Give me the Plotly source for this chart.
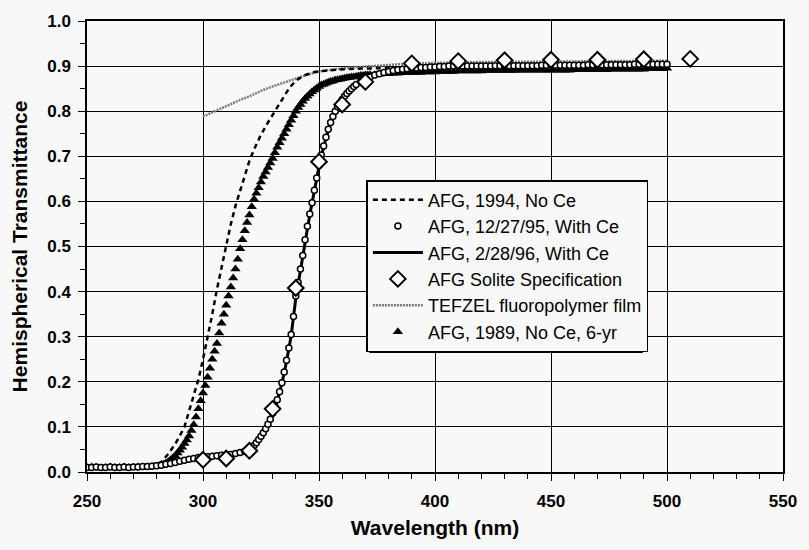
import plotly.graph_objects as go

# ---------------- data ----------------
# AFG, 1994, No Ce (dashed line)
wl_1994 = [250, 260, 270, 278, 282, 285, 288, 290, 292, 294, 296, 298, 300, 302, 304, 306,
           308, 310, 312, 314, 316, 318, 320, 322, 325, 328, 331, 334, 337, 340, 344, 348,
           355, 365, 380, 400, 430, 460, 500]
t_1994 = [0.010, 0.010, 0.010, 0.012, 0.022, 0.040, 0.062, 0.080, 0.100, 0.135, 0.170, 0.205,
          0.250, 0.298, 0.350, 0.405, 0.455, 0.505, 0.550, 0.590, 0.625, 0.660, 0.690, 0.715,
          0.748, 0.775, 0.800, 0.825, 0.850, 0.868, 0.880, 0.887, 0.891, 0.894, 0.896, 0.898,
          0.900, 0.901, 0.902]

# AFG, 12/27/95, With Ce (open circles)
wl_1995 = ([250 + 2 * i for i in range(36)] + [321 + i for i in range(45)]
           + [366 + 2 * i for i in range(68)])
t_1995 = [0.010, 0.010, 0.011, 0.010, 0.010, 0.011, 0.010, 0.010, 0.011, 0.010, 0.011, 0.011,
          0.012, 0.012, 0.013, 0.014,
          0.015, 0.017, 0.019, 0.021, 0.024, 0.026, 0.028, 0.030, 0.032, 0.033, 0.034, 0.035,
          0.036, 0.037, 0.038, 0.039, 0.041, 0.043, 0.046, 0.050,
          0.054, 0.059, 0.065, 0.072, 0.079, 0.087, 0.096, 0.106, 0.117,
          0.130, 0.145, 0.160, 0.178, 0.198, 0.222, 0.248, 0.275, 0.305, 0.345, 0.390, 0.420,
          0.450, 0.480, 0.515, 0.545, 0.572, 0.597, 0.625, 0.652, 0.680, 0.703, 0.723, 0.742,
          0.760, 0.775, 0.788, 0.800, 0.810, 0.818, 0.826, 0.833, 0.839, 0.845, 0.850, 0.855,
          0.859, 0.866, 0.871, 0.876, 0.880, 0.883, 0.886, 0.888, 0.890, 0.892,
          0.893, 0.894, 0.895, 0.896, 0.897, 0.897, 0.898, 0.898, 0.899, 0.899,
          0.900, 0.900, 0.900, 0.900, 0.900, 0.900, 0.900, 0.900, 0.900, 0.900,
          0.901, 0.901, 0.901, 0.901, 0.901, 0.901, 0.901, 0.901, 0.901, 0.901,
          0.902, 0.902, 0.902, 0.902, 0.902, 0.902, 0.902, 0.902, 0.902, 0.902,
          0.903, 0.903, 0.903, 0.903, 0.903, 0.903, 0.903, 0.903, 0.903, 0.903,
          0.904, 0.904, 0.904, 0.904, 0.904, 0.904, 0.904, 0.904]

# AFG, 2/28/96, With Ce (solid line)
wl_1996 = [250, 270, 280, 285, 290, 295, 300, 305, 310, 315, 320, 323, 326, 328, 330, 332,
           334, 336, 338, 340, 342, 344, 346, 348, 350, 352, 354, 356, 358, 360, 363, 366,
           370, 375, 380, 390, 400, 420, 450, 480, 500]
t_1996 = [0.010, 0.010, 0.013, 0.018, 0.024, 0.029, 0.033, 0.036, 0.038, 0.042, 0.050, 0.064,
          0.085, 0.104, 0.128, 0.158, 0.196, 0.245, 0.302, 0.385, 0.447, 0.512, 0.570, 0.623,
          0.678, 0.721, 0.758, 0.786, 0.808, 0.824, 0.843, 0.858, 0.870, 0.882, 0.888, 0.895,
          0.898, 0.900, 0.902, 0.903, 0.904]

# AFG Solite Specification (diamonds)
wl_spec = [300, 310, 320, 330, 340, 350, 360, 370, 390, 410, 430, 450, 470, 490, 510]
t_spec = [0.027, 0.030, 0.047, 0.140, 0.408, 0.688, 0.815, 0.865, 0.906, 0.911, 0.913,
          0.914, 0.914, 0.915, 0.916]

# TEFZEL fluoropolymer film (grey line)
wl_tefzel = [300, 305, 310, 316, 320, 325, 330, 334, 340, 345, 350, 355, 360, 370, 380, 390,
             400, 420, 450, 480, 500]
t_tefzel = [0.788, 0.800, 0.812, 0.825, 0.833, 0.845, 0.855, 0.862, 0.872, 0.881, 0.888,
            0.892, 0.895, 0.899, 0.903, 0.906, 0.907, 0.909, 0.910, 0.911, 0.912]

# AFG, 1989, No Ce, 6-yr (filled triangles)
wl_1989 = ([250 + 2 * i for i in range(15)] + [279 + i for i in range(94)]
           + [374 + 2 * i for i in range(64)])
t_1989 = [0.010, 0.011, 0.010, 0.009, 0.010, 0.011, 0.010, 0.010, 0.011, 0.010, 0.010, 0.011,
          0.010, 0.011, 0.012,
          0.012, 0.013, 0.014, 0.015, 0.017, 0.020, 0.023, 0.027, 0.031, 0.036,
          0.042, 0.048, 0.055, 0.063, 0.071, 0.080, 0.092, 0.105, 0.122, 0.140,
          0.158, 0.175, 0.192, 0.210, 0.230, 0.250, 0.268, 0.285, 0.308, 0.330,
          0.350, 0.370, 0.390, 0.410, 0.430, 0.450, 0.472, 0.495, 0.515, 0.535,
          0.553, 0.570, 0.588, 0.605, 0.618, 0.630, 0.643, 0.655, 0.665, 0.675,
          0.685, 0.695, 0.708, 0.720, 0.730, 0.740, 0.750, 0.760, 0.770, 0.780,
          0.790, 0.800, 0.808, 0.815, 0.822, 0.828, 0.833, 0.838, 0.843, 0.847,
          0.851, 0.855, 0.858, 0.860, 0.862, 0.864, 0.866, 0.867, 0.869, 0.870,
          0.871, 0.872, 0.873, 0.874, 0.875, 0.876, 0.876, 0.877, 0.878, 0.879,
          0.879, 0.880, 0.880, 0.881,
          0.881, 0.882, 0.883, 0.883, 0.884, 0.884, 0.885, 0.885, 0.886,
          0.886, 0.886, 0.887, 0.887, 0.887, 0.888, 0.888, 0.888, 0.888, 0.889,
          0.889, 0.889, 0.889, 0.889, 0.889, 0.890, 0.890, 0.890, 0.890, 0.890,
          0.890, 0.890, 0.891, 0.891, 0.891, 0.891, 0.891, 0.891, 0.891, 0.891,
          0.891, 0.891, 0.891, 0.891, 0.892, 0.892, 0.892, 0.892, 0.892, 0.892,
          0.892, 0.892, 0.893, 0.893, 0.893, 0.893, 0.893, 0.893, 0.893, 0.893,
          0.894, 0.894, 0.894, 0.894, 0.895]

x_ticks = [250, 300, 350, 400, 450, 500, 550]
y_ticks = [0.0, 0.1, 0.2, 0.3, 0.4, 0.5, 0.6, 0.7, 0.8, 0.9, 1.0]

names = ["AFG, 1994, No Ce", "AFG, 12/27/95, With Ce", "AFG, 2/28/96, With Ce",
         "AFG Solite Specification", "TEFZEL fluoropolymer film", "AFG, 1989, No Ce, 6-yr"]

# ---------------- figure ----------------
fig = go.Figure()

fig.add_trace(go.Scatter(x=wl_tefzel, y=t_tefzel, mode="lines", name=names[4], legendrank=5,
                         line=dict(color="#7a7a7a", width=2.5, dash="2px,1px")))
fig.add_trace(go.Scatter(x=wl_1994, y=t_1994, mode="lines", name=names[0], legendrank=1,
                         line=dict(color="black", width=2.5, dash="5px,4px")))
fig.add_trace(go.Scatter(x=wl_1989, y=t_1989, mode="markers", name=names[5], legendrank=6,
                         marker=dict(symbol="triangle-up", color="black", size=9,
                                     line=dict(width=0))))
fig.add_trace(go.Scatter(x=wl_1996, y=t_1996, mode="lines", name=names[2], legendrank=3,
                         line=dict(color="black", width=3)))
fig.add_trace(go.Scatter(x=wl_1995, y=t_1995, mode="markers", name=names[1], legendrank=2,
                         marker=dict(symbol="circle", color="white", size=6,
                                     line=dict(color="black", width=1.5))))
fig.add_trace(go.Scatter(x=wl_spec, y=t_spec, mode="markers", name=names[3], legendrank=4,
                         marker=dict(symbol="diamond", color="white", size=12,
                                     line=dict(color="black", width=2))))

# legend drop shadow (pixel box converted to paper fractions)
px_l, px_r, px_t, px_b = 87, 792, 21, 472
def fx(p):
    return (p - px_l) / (px_r - px_l)
def fy(p):
    return (px_b - p) / (px_b - px_t)

fig.add_shape(type="rect", xref="paper", yref="paper", layer="above",
              x0=fx(373), x1=fx(650), y0=fy(353), y1=fy(184),
              fillcolor="black", line=dict(width=0))

axis_font = dict(family="Liberation Sans, Arial, sans-serif", size=17, color="black")
title_font = dict(family="Liberation Sans, Arial, sans-serif", size=21, color="black")

fig.update_layout(
    width=809, height=550,
    margin=dict(l=px_l, r=809 - px_r, t=px_t, b=550 - px_b),
    paper_bgcolor="#f8f8f8", plot_bgcolor="#f8f8f8",
    showlegend=True,
    legend=dict(x=fx(370), y=fy(180), xanchor="left", yanchor="top",
                bgcolor="#f8f8f8", bordercolor="black", borderwidth=1.5,
                font=dict(family="Liberation Sans, Arial, sans-serif", size=18, color="black"),
                itemwidth=50, tracegroupgap=0),
    xaxis=dict(range=[250, 550], tickvals=x_ticks, ticktext=[f"<b>{v}</b>" for v in x_ticks],
               showgrid=True, gridcolor="black", gridwidth=1,
               showline=True, linecolor="black", linewidth=1.5, mirror=True,
               ticks="outside", ticklen=7, tickwidth=1.2, tickcolor="black",
               minor=dict(dtick=10, tick0=250, ticks="outside", ticklen=5, tickwidth=1.2,
                          tickcolor="black", showgrid=False),
               tickfont=axis_font, ticklabelstandoff=6, zeroline=False,
               title=dict(text="<b>Wavelength (nm)</b>", font=title_font, standoff=10)),
    yaxis=dict(range=[0, 1.0], tickvals=y_ticks, ticktext=[f"<b>{v:.1f}</b>" for v in y_ticks],
               showgrid=True, gridcolor="black", gridwidth=1,
               showline=True, linecolor="black", linewidth=1.5, mirror=True,
               ticks="outside", ticklen=7, tickwidth=1.2, tickcolor="black",
               minor=dict(dtick=0.05, tick0=0, ticks="outside", ticklen=5, tickwidth=1.2,
                          tickcolor="black", showgrid=False),
               tickfont=axis_font, ticklabelstandoff=4, zeroline=False,
               title=dict(text="<b>Hemispherical Transmittance</b>", font=title_font, standoff=14)),
)

fig.write_html("out.html")
